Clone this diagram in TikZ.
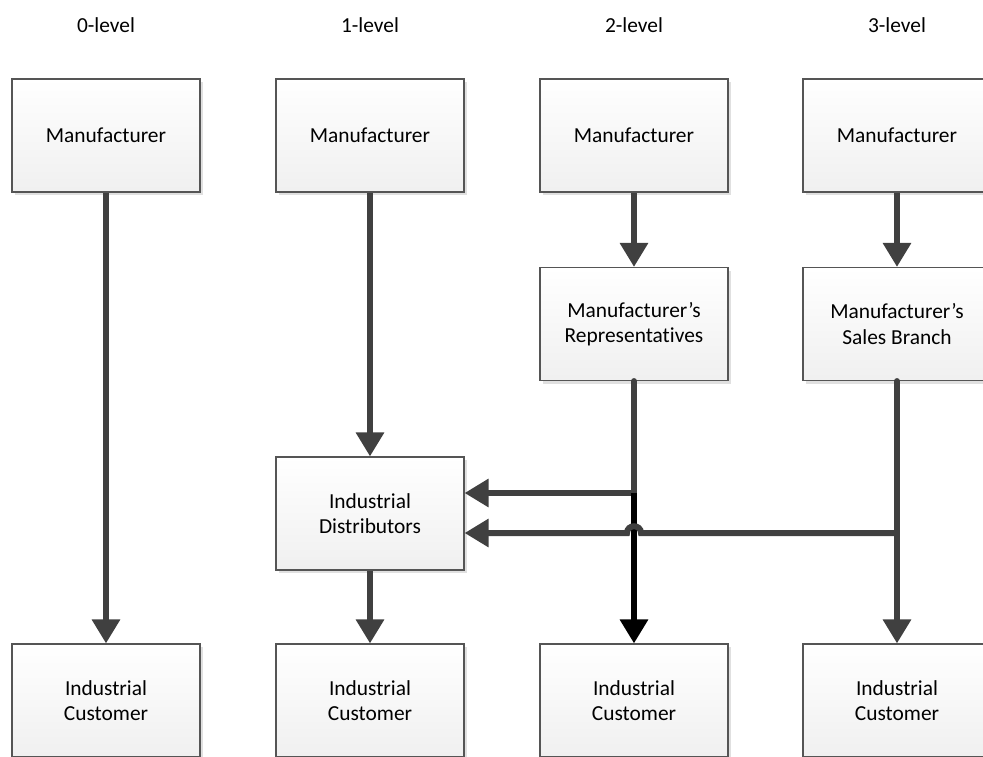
\documentclass[tikz,border=0pt]{standalone}
\usepackage{fontspec}
\setmainfont[Ligatures=NoCommon]{Carlito}
\usetikzlibrary{arrows.meta,shadows}
\definecolor{flow}{HTML}{404040}
\definecolor{edge}{HTML}{555555}
\begin{document}
\begin{tikzpicture}[x=1pt,y=-1pt,
  box/.style={draw=edge,line width=1.1pt,top color=white,bottom color=black!6,
    minimum width=188pt,minimum height=113pt,align=center,
    font=\fontsize{21.4}{25.5}\selectfont,
    drop shadow={shadow xshift=3pt,shadow yshift=-3pt,fill=black!12,opacity=1}},
  lvl/.style={font=\fontsize{21.4}{25.5}\selectfont},
  link/.style={draw=flow,line width=6pt,line cap=round},
  tip/.style={link,line cap=butt,-{Triangle[length=24pt,width=27pt]}}]
\useasboundingbox (0,0) rectangle (983,756);

% column headings
\node[lvl] (l0) at (106,25) {0-level};
\node[lvl] (l1) at (370,25) {1-level};
\node[lvl] (l2) at (634,25) {2-level};
\node[lvl] (l3) at (897,25) {3-level};

% producers
\node[box] (m0) at (106,135.5) {Manufacturer};
\node[box] (m1) at (370,135.5) {Manufacturer};
\node[box] (m2) at (634,135.5) {Manufacturer};
\node[box] (m3) at (897,135.5) {Manufacturer};

% intermediaries
\node[box] (rep) at (634,324) {Manufacturer’s\\Representatives};
\node[box] (sb)  at (897,324) {Manufacturer’s\\Sales Branch};
\node[box] (dist) at (370,513.5) {Industrial\\Distributors};

% customers
\node[box] (c0) at (106,700.5) {Industrial\\Customer};
\node[box] (c1) at (370,700.5) {Industrial\\Customer};
\node[box] (c2) at (634,700.5) {Industrial\\Customer};
\node[box] (c3) at (897,700.5) {Industrial\\Customer};

% branch points
\coordinate (j1) at (634,493);
\coordinate (j2) at (897,533);
\coordinate (hopR) at (641,533);
\coordinate (hopL) at (627,533);

% 0-level
\draw[tip] (m0.south) -- (c0.north);
% 1-level
\draw[tip] (m1.south) -- (dist.north);
\draw[tip] (dist.south) -- (c1.north);
% 2-level
\draw[tip] (m2.south) -- (rep.north);
\draw[link] (rep.south) -- (j1);
\draw[tip] (j1) -- (dist.east |- j1);
\draw[tip,draw=black] (j1) -- (c2.north);
% 3-level
\draw[tip] (m3.south) -- (sb.north);
\draw[link] (sb.south) -- (j2);
\draw[tip] (j2) -- (c3.north);
\draw[tip] (j2) -- (hopR) .. controls (641,524) and (627,524) .. (hopL) -- (dist.east |- j2);
\end{tikzpicture}
\end{document}
